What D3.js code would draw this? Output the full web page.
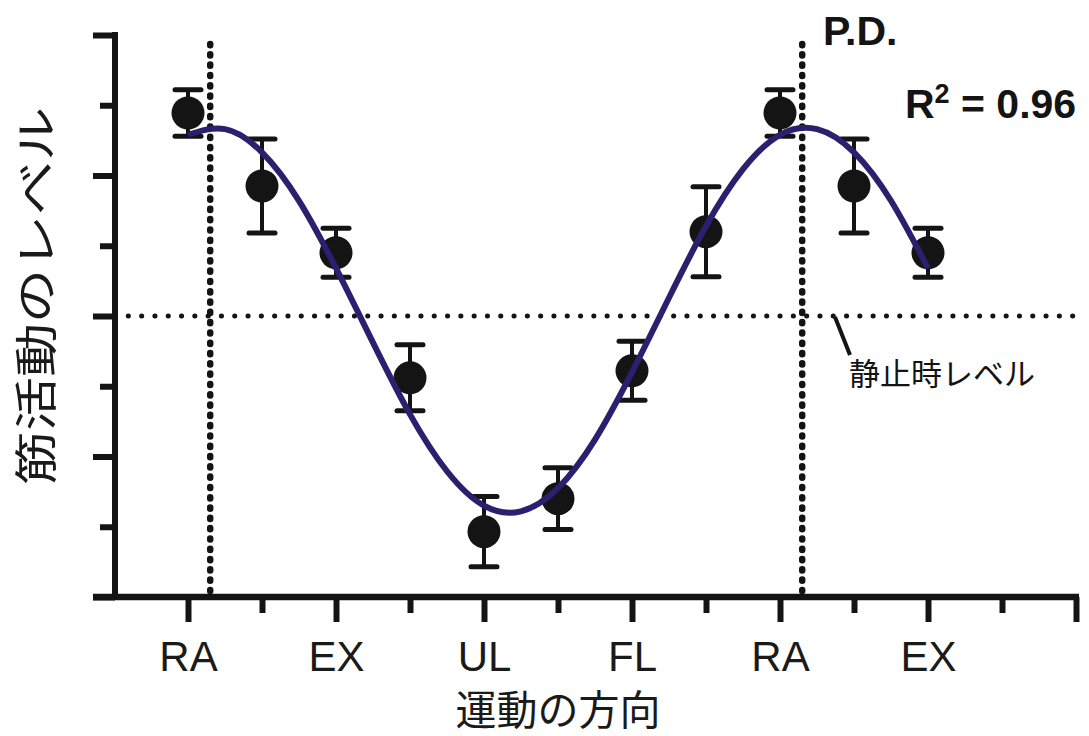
<!DOCTYPE html>
<html>
<head>
<meta charset="utf-8">
<script src="https://cdn.jsdelivr.net/npm/d3@7"></script>
<style>
  html, body { margin: 0; padding: 0; background: #fff; }
  svg { display: block; }
</style>
</head>
<body>
<svg id="chart" width="1089" height="736"></svg>
<script>
// Movement directions along the x axis (one tick per 45°, two laps shown)
const tickLabels = ["RA", "", "EX", "", "UL", "", "FL", "", "RA", "", "EX", "", ""];
// Direction index of each measured point
const directionIndex = [0, 1, 2, 3, 4, 5, 6, 7, 8, 9, 10];
// Mean muscle activity level per direction and its error
const meanLevel = [6.89, 5.85, 4.90, 3.12, 0.93, 1.40, 3.22, 5.20, 6.89, 5.85, 4.90];
const errLevel  = [0.33, 0.67, 0.35, 0.47, 0.50, 0.44, 0.42, 0.64, 0.33, 0.67, 0.35];
// Fitted tuning curve, sampled every half step
const fitX = [0, 0.5, 1, 1.5, 2, 2.5, 3, 3.5, 4, 4.5, 5, 5.5, 6, 6.5, 7, 7.5, 8, 8.5, 9, 9.5, 10];
const fitY = [6.58, 6.66, 6.33, 5.64, 4.68, 3.62, 2.60, 1.79, 1.30, 1.22, 1.55, 2.24, 3.20, 4.26, 5.28, 6.09, 6.58, 6.66, 6.33, 5.64, 4.68];
// Preferred direction markers and resting level
const preferredDirections = [0.3, 8.3];
const restingLevel = 4;
const yTicks = [0, 1, 2, 3, 4, 5, 6, 7, 8];

const svg = d3.select("#chart");
const ink = "#141414";
const curveColor = "#2b1f6e";

const x = d3.scaleLinear().domain([0, 12]).range([188, 1076]);
const y = d3.scaleLinear().domain([0, 8]).range([597, 35]);
const axisLeftX = 115;

// Resting level (dotted)
svg.append("line")
  .attr("x1", axisLeftX).attr("x2", 1078)
  .attr("y1", y(restingLevel)).attr("y2", y(restingLevel))
  .attr("stroke", ink).attr("stroke-width", 5)
  .attr("stroke-linecap", "round")
  .attr("stroke-dasharray", "0.1,13.2");

// Preferred direction lines (dashed)
svg.selectAll("line.pd").data(preferredDirections).join("line")
  .attr("class", "pd")
  .attr("x1", d => x(d)).attr("x2", d => x(d))
  .attr("y1", 44).attr("y2", y(0))
  .attr("stroke", ink).attr("stroke-width", 6.5)
  .attr("stroke-linecap", "round")
  .attr("stroke-dasharray", "1.2,9.1");

// Axes
const yAxis = d3.axisLeft(y).tickValues(yTicks).tickFormat("")
  .tickSizeOuter(0).tickSizeInner(0);
const yg = svg.append("g").attr("transform", `translate(${axisLeftX},0)`).call(yAxis);
yg.select(".domain").remove();
yg.append("line").attr("x1", 0).attr("x2", 0).attr("y1", y(8) - 3).attr("y2", y(0) + 3)
  .attr("stroke", ink).attr("stroke-width", 6);
yg.selectAll(".tick line")
  .attr("x1", d => d % 2 === 0 ? -22 : -15).attr("x2", 0)
  .attr("stroke", ink).attr("stroke-width", 6);

const xAxis = d3.axisBottom(x).tickValues(d3.range(13))
  .tickFormat(d => tickLabels[d]).tickSizeOuter(0).tickPadding(0);
const xg = svg.append("g").attr("transform", `translate(0,${y(0)})`).call(xAxis);
xg.select(".domain").remove();
xg.append("line").attr("x1", axisLeftX - 22).attr("x2", 1079).attr("y1", 0).attr("y2", 0)
  .attr("stroke", ink).attr("stroke-width", 6.5);
xg.selectAll(".tick line")
  .attr("y2", d => d % 2 === 0 ? 25 : 16)
  .attr("stroke", ink).attr("stroke-width", 6);
xg.selectAll(".tick text")
  .attr("y", 74).attr("dy", 0)
  .attr("fill", "#1a1a1a")
  .style("font-family", "'Liberation Sans', Arial, sans-serif")
  .style("font-size", "42px");

// Error bars
const capHalf = 13;
const eb = svg.append("g");
directionIndex.forEach((d, i) => {
  const cx = x(d), top = y(meanLevel[i] + errLevel[i]), bot = y(meanLevel[i] - errLevel[i]);
  eb.append("line").attr("x1", cx).attr("x2", cx).attr("y1", top).attr("y2", bot)
    .attr("stroke", ink).attr("stroke-width", 4);
  [top, bot].forEach(v => eb.append("line")
    .attr("x1", cx - capHalf).attr("x2", cx + capHalf).attr("y1", v).attr("y2", v)
    .attr("stroke", ink).attr("stroke-width", 5).attr("stroke-linecap", "round"));
});

// Mean points
svg.selectAll("circle.pt").data(directionIndex).join("circle")
  .attr("class", "pt")
  .attr("cx", d => x(d)).attr("cy", (d, i) => y(meanLevel[i]))
  .attr("r", 16.5).attr("fill", ink);

// Fitted curve
const line = d3.line().x(d => x(d[0])).y(d => y(d[1])).curve(d3.curveNatural);
svg.append("path")
  .datum(fitX.map((v, i) => [v, fitY[i]]))
  .attr("d", line)
  .attr("fill", "none").attr("stroke", curveColor).attr("stroke-width", 6);

// Annotations
svg.append("text").attr("x", 823).attr("y", 45)
  .style("font-family", "'Liberation Sans', Arial, sans-serif")
  .style("font-weight", "bold").style("font-size", "41px").attr("fill", ink)
  .text("P.D.");

const r2 = svg.append("text").attr("x", 905).attr("y", 118)
  .style("font-family", "'Liberation Sans', Arial, sans-serif")
  .style("font-weight", "bold").style("font-size", "41px").attr("fill", ink);
r2.append("tspan").text("R");
r2.append("tspan").attr("dy", -15).style("font-size", "27px").text("2");
r2.append("tspan").attr("dy", 15).text(" = 0.96");

svg.append("line").attr("x1", 835).attr("y1", 317).attr("x2", 850).attr("y2", 355)
  .attr("stroke", ink).attr("stroke-width", 4);
svg.append("text").attr("x", 849).attr("y", 371)
  .attr("dominant-baseline", "central")
  .style("font-family", "'Noto Sans CJK JP', sans-serif")
  .style("font-size", "31px").attr("fill", ink)
  .text("静止時レベル");

// Axis titles
svg.append("text").attr("x", 558).attr("y", 707)
  .attr("text-anchor", "middle").attr("dominant-baseline", "central")
  .style("font-family", "'Noto Sans CJK JP', sans-serif")
  .style("font-size", "41px").attr("fill", "#1a1a1a")
  .text("運動の方向");

svg.append("text")
  .attr("transform", "translate(33,296) rotate(-90) scale(1,0.8)")
  .attr("text-anchor", "middle").attr("dominant-baseline", "central")
  .style("font-family", "'Noto Sans CJK JP', sans-serif")
  .style("font-size", "54px").attr("fill", "#1a1a1a")
  .text("筋活動のレベル");
</script>
</body>
</html>
